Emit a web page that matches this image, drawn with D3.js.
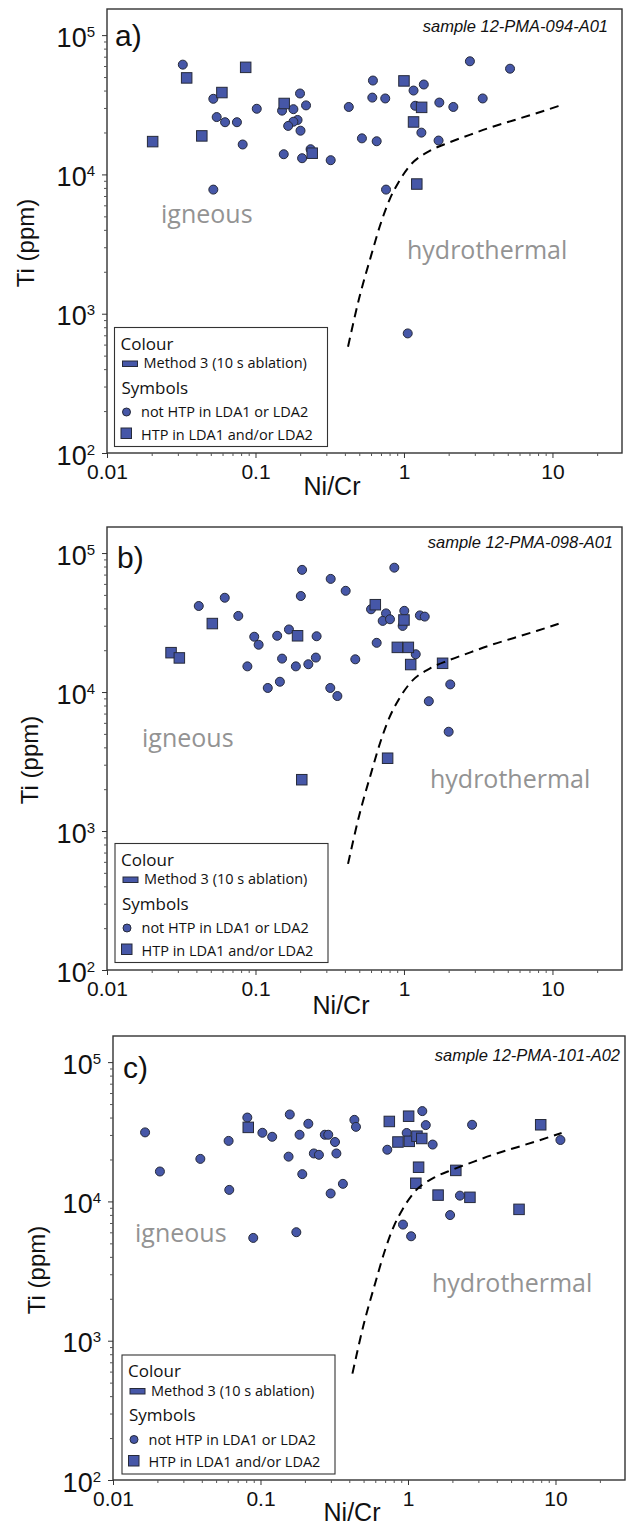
<!DOCTYPE html>
<html>
<head>
<meta charset="utf-8">
<script src="https://cdn.jsdelivr.net/npm/d3@7"></script>
<style>
  body { margin: 0; background: #fff; }
  svg text { font-family: "Liberation Sans", Arial, Helvetica, sans-serif; fill: #111; }
  .region { font-family: "Open Sans", sans-serif; font-size: 25px; fill: #939393 !important; }
  .legend text { font-family: "Open Sans", sans-serif; }
</style>
</head>
<body>
<svg id="chart" width="627" height="1530"></svg>
<script>
// ---- values (Ni/Cr, Ti ppm) ----
const aCircNiCr = [0.0324, 0.052, 0.0548, 0.0624, 0.075, 0.102, 0.082, 0.052, 0.1995, 0.219, 0.151, 0.180, 0.192, 0.180, 0.166, 0.201, 0.155, 0.206, 0.235, 0.425, 0.618, 0.612, 0.748, 0.521, 0.655, 0.321, 2.78, 5.18, 1.36, 1.16, 1.19, 1.73, 2.15, 3.39, 1.31, 1.71, 0.757, 1.06];
const aCircTi   = [61400, 34900, 25800, 23700, 23700, 29600, 16400, 7780, 38100, 31300, 28700, 29400, 24600, 23900, 22300, 20600, 13960, 13070, 15170, 30500, 47200, 35600, 35100, 18150, 17300, 12650, 64900, 57400, 44200, 40000, 31100, 32800, 30500, 35100, 19950, 17500, 7780, 722];
const aSqNiCr   = [0.0344, 0.0859, 0.0594, 0.0435, 0.0203, 0.156, 0.241, 1.0, 1.315, 1.16, 1.22];
const aSqTi     = [49300, 58700, 38700, 18900, 17200, 32300, 14200, 46900, 30300, 23800, 8530];

const bCircNiCr = [0.0415, 0.0621, 0.0766, 0.0981, 0.105, 0.0882, 0.206, 0.202, 0.140, 0.168, 0.151, 0.187, 0.227, 0.258, 0.255, 0.121, 0.146, 0.321, 0.405, 0.861, 0.600, 0.757, 0.719, 0.805, 1.005, 0.98, 1.28, 1.38, 0.655, 0.470, 1.2, 0.319, 0.356, 2.05, 1.47, 2.0];
const bCircTi   = [41600, 47700, 35300, 25000, 21900, 15300, 75700, 49100, 25400, 28200, 17400, 15300, 15850, 25200, 17700, 10700, 11860, 65200, 53500, 78500, 39400, 36800, 32500, 33400, 38400, 29900, 35600, 34900, 22600, 17200, 18700, 10700, 9360, 11350, 8590, 5180];
const bSqNiCr   = [0.027, 0.0307, 0.0512, 0.192, 0.641, 1.0, 0.902, 1.07, 1.11, 1.82, 0.776, 0.205];
const bSqTi     = [19200, 17600, 31100, 25400, 42500, 33000, 20960, 20960, 15770, 16100, 3340, 2340];

const cCircNiCr = [0.0165, 0.0208, 0.0391, 0.0608, 0.0614, 0.0814, 0.103, 0.120, 0.158, 0.211, 0.184, 0.155, 0.230, 0.192, 0.0893, 0.175, 0.433, 0.444, 0.273, 0.288, 0.320, 0.249, 0.327, 0.362, 0.299, 1.25, 1.32, 0.98, 1.47, 0.724, 2.72, 10.8, 2.25, 1.93, 0.925, 1.05];
const cCircTi   = [31300, 16400, 20200, 27200, 12100, 40000, 31100, 29100, 42100, 36100, 30100, 20960, 22100, 15700, 5470, 6010, 38500, 34300, 30100, 30100, 26700, 21600, 22100, 13370, 11400, 44500, 35300, 31000, 25600, 23500, 35500, 27600, 11000, 7980, 6820, 5620];
const cSqNiCr   = [0.0826, 0.747, 1.01, 0.855, 1.02, 1.15, 1.24, 1.18, 2.11, 1.13, 1.60, 2.63, 5.66, 7.94];
const cSqTi     = [34000, 37500, 40900, 26700, 27000, 29400, 28300, 17600, 16700, 13500, 11100, 10700, 8770, 35500];

// igneous / hydrothermal boundary
const boundaryNiCr = [0.42, 0.5, 0.6, 0.7, 0.8, 0.92, 1.1, 1.5, 2, 2.8, 3.8, 5.5, 7.8, 11];
const boundaryTi   = [580, 1300, 2600, 4500, 6600, 8800, 11600, 14800, 16900, 19300, 21700, 24500, 27500, 31000];

const xTickValues = [0.01, 0.1, 1, 10];
const xTickLabels = ["0.01", "0.1", "1", "10"];
const yTickValues = [100, 1000, 10000, 100000];
const yTickExponents = ["2", "3", "4", "5"];

const legendColourLabel = "Method 3 (10 s ablation)";
const legendCircleLabel = "not HTP in LDA1 or LDA2";
const legendSquareLabel = "HTP in LDA1 and/or LDA2";

const fillColor = "#4657a8";
const edgeColor = "#262a3a";

// panel layout
const panels = [
  { tag: "a)", sample: "sample 12-PMA-094-A01",
    circX: aCircNiCr, circY: aCircTi, sqX: aSqNiCr, sqY: aSqTi,
    left: 107, right: 622, top: 9, bottom: 453, xMax: 29.4, yMax: 154000,
    tagPos: [115, 46], samplePos: [608, 32],
    ign: [161, 223], hyd: [407, 259],
    xTitle: [332, 495], yTitle: [34, 243], legend: [114.5, 327.5] },
  { tag: "b)", sample: "sample 12-PMA-098-A01",
    circX: bCircNiCr, circY: bCircTi, sqX: bSqNiCr, sqY: bSqTi,
    left: 107, right: 622, top: 527, bottom: 970, xMax: 29.4, yMax: 154000,
    tagPos: [117, 568], samplePos: [613, 548],
    ign: [142, 747], hyd: [430, 788],
    xTitle: [341, 1014], yTitle: [38, 760], legend: [115, 843.5] },
  { tag: "c)", sample: "sample 12-PMA-101-A02",
    circX: cCircNiCr, circY: cCircTi, sqX: cSqNiCr, sqY: cSqTi,
    left: 113, right: 625, top: 1036, bottom: 1480, xMax: 29.6, yMax: 154000,
    tagPos: [123, 1078], samplePos: [620, 1061],
    ign: [135, 1242], hyd: [432, 1292],
    xTitle: [352, 1521], yTitle: [45, 1270], legend: [122, 1355] }
];

const svg = d3.select("#chart");
svg.append("rect").attr("width", 627).attr("height", 1530).attr("fill", "#fff");

panels.forEach(p => drawPanel(p));

function isPow10(v) { return Math.abs(Math.log10(v) - Math.round(Math.log10(v))) < 1e-9; }

function drawPanel(p) {
  const g = svg.append("g");
  const x = d3.scaleLog().domain([0.01, p.xMax]).range([p.left, p.right]);
  const y = d3.scaleLog().domain([100, p.yMax]).range([p.bottom, p.top]);

  // frame
  g.append("rect")
    .attr("x", p.left).attr("y", p.top)
    .attr("width", p.right - p.left).attr("height", p.bottom - p.top)
    .attr("fill", "none").attr("stroke", "#333").attr("stroke-width", 1.4);

  // x axis: minor then major ticks
  const xMinor = x.ticks().filter(v => !isPow10(v));
  g.append("g").attr("transform", "translate(0," + p.bottom + ")")
    .call(d3.axisBottom(x).tickValues(xMinor).tickSize(3).tickFormat(""))
    .call(a => a.select(".domain").remove())
    .call(a => a.selectAll("line").attr("stroke", "#555"));
  g.append("g").attr("transform", "translate(0," + p.bottom + ")")
    .call(d3.axisBottom(x).tickValues(xTickValues).tickSize(5).tickPadding(6)
      .tickFormat((d, i) => xTickLabels[i]))
    .call(a => a.select(".domain").remove())
    .call(a => a.selectAll("line").attr("stroke", "#333"))
    .call(a => a.selectAll("text")
      .attr("font-family", '"Liberation Sans", Arial, sans-serif')
      .attr("font-size", 21).attr("fill", "#111"));

  // y axis
  const yMinor = y.ticks().filter(v => !isPow10(v));
  g.append("g").attr("transform", "translate(" + p.left + ",0)")
    .call(d3.axisLeft(y).tickValues(yMinor).tickSize(3).tickFormat(""))
    .call(a => a.select(".domain").remove())
    .call(a => a.selectAll("line").attr("stroke", "#555"));
  const yAx = g.append("g").attr("transform", "translate(" + p.left + ",0)")
    .call(d3.axisLeft(y).tickValues(yTickValues).tickSize(5).tickFormat(""))
    .call(a => a.select(".domain").remove())
    .call(a => a.selectAll("line").attr("stroke", "#333"));
  yAx.selectAll(".tick").each(function (d, i) {
    const t = d3.select(this).append("text")
      .attr("x", -12).attr("y", 11)
      .attr("text-anchor", "end")
      .attr("font-family", '"Liberation Sans", Arial, sans-serif')
      .attr("fill", "#111");
    t.append("tspan").attr("font-size", 27).text("10");
    t.append("tspan").attr("font-size", 15).attr("dy", -10).text(yTickExponents[i]);
  });

  // axis titles
  g.append("text")
    .attr("x", p.xTitle[0]).attr("y", p.xTitle[1])
    .attr("text-anchor", "middle").attr("font-size", 25)
    .text("Ni/Cr");
  g.append("text")
    .attr("transform", "translate(" + p.yTitle[0] + "," + p.yTitle[1] + ") rotate(-90)")
    .attr("text-anchor", "middle").attr("font-size", 24)
    .text("Ti (ppm)");

  // region names
  g.append("text").attr("class", "region").attr("x", p.ign[0]).attr("y", p.ign[1]).text("igneous");
  g.append("text").attr("class", "region").attr("x", p.hyd[0]).attr("y", p.hyd[1]).text("hydrothermal");

  // panel tag and sample name
  g.append("text").attr("x", p.tagPos[0]).attr("y", p.tagPos[1])
    .attr("font-size", 30).text(p.tag);
  g.append("text").attr("x", p.samplePos[0]).attr("y", p.samplePos[1])
    .attr("text-anchor", "end").attr("font-size", 16.5).attr("font-style", "italic")
    .text(p.sample);

  // points
  const circ = p.circX.map((v, i) => ({ x: v, y: p.circY[i] }));
  const sq = p.sqX.map((v, i) => ({ x: v, y: p.sqY[i] }));
  g.append("g").selectAll("circle").data(circ).join("circle")
    .attr("cx", d => x(d.x)).attr("cy", d => y(d.y)).attr("r", 4.5)
    .attr("fill", fillColor).attr("stroke", edgeColor).attr("stroke-width", 1);
  const s = 10.5;
  g.append("g").selectAll("rect").data(sq).join("rect")
    .attr("x", d => x(d.x) - s / 2).attr("y", d => y(d.y) - s / 2)
    .attr("width", s).attr("height", s)
    .attr("fill", fillColor).attr("stroke", edgeColor).attr("stroke-width", 1);

  // boundary
  const bnd = boundaryNiCr.map((v, i) => ({ x: v, y: boundaryTi[i] }));
  g.append("path").datum(bnd)
    .attr("fill", "none").attr("stroke", "#000").attr("stroke-width", 2)
    .attr("stroke-dasharray", "9,6")
    .attr("d", d3.line().x(d => x(d.x)).y(d => y(d.y)).curve(d3.curveMonotoneX));

  // legend
  const lx = p.legend[0], ly = p.legend[1];
  const lg = g.append("g").attr("class", "legend");
  lg.append("rect").attr("x", lx).attr("y", ly).attr("width", 213).attr("height", 119)
    .attr("fill", "#fff").attr("stroke", "#333").attr("stroke-width", 1.1);
  lg.append("text").attr("x", lx + 6).attr("y", ly + 22).attr("font-size", 17).text("Colour");
  lg.append("rect").attr("x", lx + 8).attr("y", ly + 33.5).attr("width", 15).attr("height", 5.5)
    .attr("fill", fillColor).attr("stroke", edgeColor).attr("stroke-width", 1);
  lg.append("text").attr("x", lx + 29).attr("y", ly + 40.5).attr("font-size", 14.5).text(legendColourLabel);
  lg.append("text").attr("x", lx + 7).attr("y", ly + 66).attr("font-size", 17).text("Symbols");
  lg.append("circle").attr("cx", lx + 12).attr("cy", ly + 84.5).attr("r", 4)
    .attr("fill", fillColor).attr("stroke", edgeColor).attr("stroke-width", 1);
  lg.append("text").attr("x", lx + 26.5).attr("y", ly + 89.5).attr("font-size", 14.5).text(legendCircleLabel);
  lg.append("rect").attr("x", lx + 6.5).attr("y", ly + 100.5).attr("width", 10.5).attr("height", 10.5)
    .attr("fill", fillColor).attr("stroke", edgeColor).attr("stroke-width", 1);
  lg.append("text").attr("x", lx + 26.5).attr("y", ly + 112).attr("font-size", 14.5).text(legendSquareLabel);
}
</script>
</body>
</html>
